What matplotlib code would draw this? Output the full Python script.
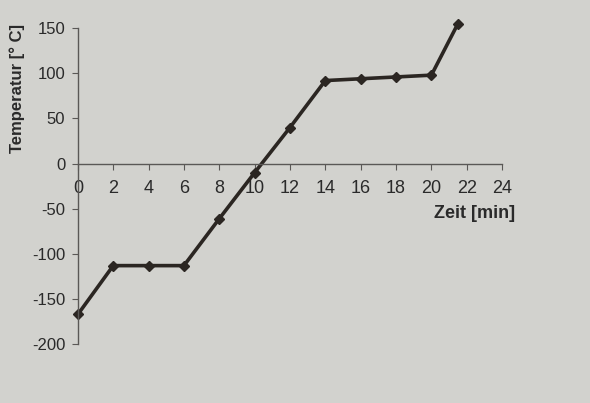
import matplotlib
matplotlib.use("Agg")
import matplotlib.pyplot as plt

# Zeit [min] und Temperatur [° C]
zeit = [0, 2, 4, 6, 8, 10, 12, 14, 16, 18, 20, 21.5]
temperatur = [-167, -113, -113, -113, -61, -10, 40, 92, 94, 96, 98, 155]

x_ticks = [0, 2, 4, 6, 8, 10, 12, 14, 16, 18, 20, 22, 24]
y_ticks = [-200, -150, -100, -50, 0, 50, 100, 150]

paper = "#d2d2ce"
ink = "#2b2622"
axis_col = "#5a5856"

plt.rcParams["font.family"] = ["Liberation Sans", "DejaVu Sans"]
plt.rcParams["axes.unicode_minus"] = False

fig = plt.figure(figsize=(5.9, 4.03), dpi=100, facecolor=paper)
ax = fig.add_axes([0.132, 0.146, 0.719, 0.784])
ax.set_facecolor(paper)

ax.plot(zeit, temperatur, color=ink, linewidth=2.6, marker="D",
        markersize=5, markerfacecolor=ink, markeredgecolor=ink, clip_on=False)

ax.set_xlim(0, 24)
ax.set_ylim(-200, 150)

# axes crossing at zero like in the printed chart
ax.spines["left"].set_position(("data", 0))
ax.spines["bottom"].set_position(("data", 0))
ax.spines["right"].set_visible(False)
ax.spines["top"].set_visible(False)
for s in ["left", "bottom"]:
    ax.spines[s].set_color(axis_col)
    ax.spines[s].set_linewidth(1.0)

ax.set_xticks(x_ticks)
ax.set_yticks(y_ticks)
ax.tick_params(axis="x", direction="out", length=4, color=axis_col,
               labelsize=13, pad=8, labelcolor="#2a2a2a")
ax.tick_params(axis="y", direction="out", length=4, color=axis_col,
               labelsize=12, pad=5, labelcolor="#2a2a2a")

fig.text(0.03, 0.78, "Temperatur [° C]", rotation=90, ha="center", va="center",
         fontsize=12, fontweight="bold", color="#2a2a2a")
fig.text(0.873, 0.47, "Zeit [min]", ha="right", va="center",
         fontsize=13, fontweight="bold", color="#2a2a2a")

fig.savefig("out.png", dpi=100, facecolor=paper)
